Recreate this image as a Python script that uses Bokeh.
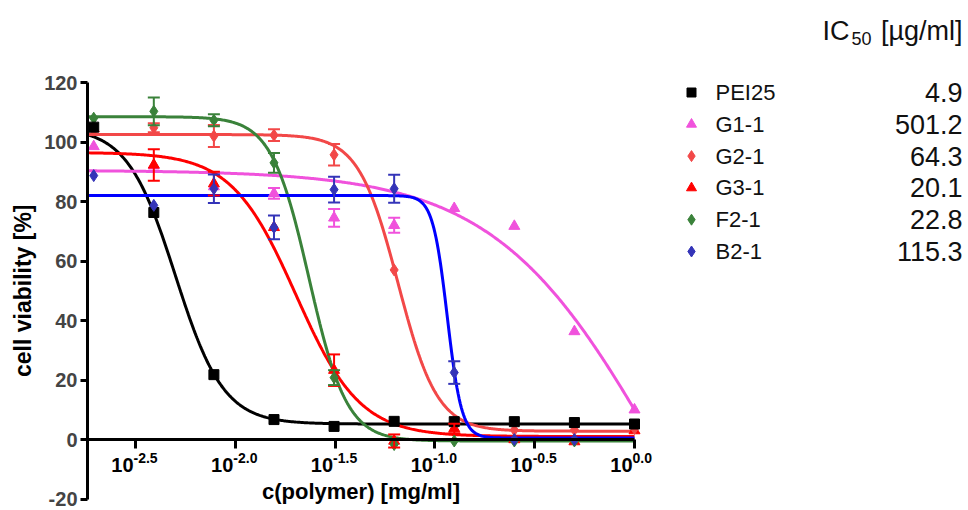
import numpy as np
from bokeh.plotting import figure
from bokeh.models import ColumnDataSource, Range1d, FixedTicker, Whisker, TeeHead
from bokeh.core.properties import value
from bokeh.embed import file_html
from bokeh.resources import INLINE

NAN = float("nan")

# ---------------- data ----------------
conc = [0.001953125, 0.00390625, 0.0078125, 0.015625, 0.03125,
        0.0625, 0.125, 0.25, 0.5, 1.0]                      # mg/ml
x_ticks = [-2.5, -2.0, -1.5, -1.0, -0.5, 0.0]                # log10 ticks
y_ticks = [-20, 0, 20, 40, 60, 80, 100, 120]

names = ["PEI25", "G1-1", "G2-1", "G3-1", "F2-1", "B2-1"]
ic50_text = ["4.9", "501.2", "64.3", "20.1", "22.8", "115.3"]

pei25_mean = [105.0, 76.3, 21.8, 6.7, 4.4, 6.1, 6.0, 6.0, 5.7, 5.2]
pei25_sem = [0, 0, 0, 0, 0, 0, 0, 0, 0, 0]
g11_mean = [98.5, 92.0, 85.0, 82.7, 74.5, 72.0, 77.7, 71.7, 36.3, 10.0]
g11_sem = [0, 0, 0, 1.8, 3.0, 2.5, 0, 0, 0, 0]
g21_mean = [104.0, 104.8, 102.0, 102.3, 95.7, 57.0, 6.0, 3.2, 3.3, 3.7]
g21_sem = [0, 1.5, 3.7, 2.0, 3.6, 0, 0, 0, 0, 0]
g31_mean = [104.5, 92.3, 86.0, 71.3, 23.3, -0.5, 3.7, 0.0, -0.7, 3.0]
g31_sem = [0, 5.3, 4.0, 0, 5.3, 2.2, 1.6, 0, 0, 0]
f21_mean = [108.0, 110.3, 107.3, 93.0, 20.8, -1.7, -0.5, -0.5, -0.5, NAN]
f21_sem = [0, 4.7, 2.0, 3.3, 2.5, 0, 0, 0, 0, 0]
b21_mean = [88.7, 78.7, 84.3, 71.3, 84.0, 84.3, 22.5, 0.0, 0.0, NAN]
b21_sem = [0, 0, 4.8, 4.0, 4.3, 4.7, 3.8, 0, 0, 0]

# fitted dose-response curves
fit_top = [105.0, 90.5, 102.5, 96.5, 108.5, 82.0]
fit_bottom = [5.2, -100.0, 2.8, 1.0, -0.5, 0.5]
fit_logic50 = [-2.30, 0.129, -1.185, -1.697, -1.63, -0.938]
fit_hill = [3.6, 1.05, 4.4, 2.7, 4.6, 12.0]

means = [pei25_mean, g11_mean, g21_mean, g31_mean, f21_mean, b21_mean]
sems = [pei25_sem, g11_sem, g21_sem, g31_sem, f21_sem, b21_sem]

# ---------------- style / layout ----------------
curve_colors = ["#000000", "#F052DC", "#F24848", "#FF0000", "#3A823A", "#0000FF"]
point_colors = ["#000000", "#F052DC", "#F24848", "#FF0000", "#3A823A", "#3434B8"]
markers = ["square", "triangle", "diamond", "triangle", "diamond", "diamond"]
msizes = [10, 11, 12, 11, 12, 12]
draw_order = [1, 3, 2, 4, 0, 5]

FONT = "Liberation Sans"
W, H = 968, 510
PX_PER_DEC = 199.6            # pixels per decade
X0_PX = 634                   # pixel of log10(c) = 0
Y120_PX, YM20_PX = 82, 498.5  # pixels of y = 120 and y = -20
PX_PER_UNIT = (YM20_PX - Y120_PX) / 140.0
Y0_PX = Y120_PX + 120 * PX_PER_UNIT


def px2x(px):
    return (px - X0_PX) / PX_PER_DEC


def py2y(py):
    return (Y0_PX - py) / PX_PER_UNIT


x_start = px2x(87)

p = figure(width=W, height=H, output_backend="svg", toolbar_location=None,
           x_range=Range1d(px2x(0), px2x(W)), y_range=Range1d(py2y(H), py2y(0)),
           min_border=0)
p.outline_line_color = None
p.grid.visible = False
p.background_fill_color = "white"
p.border_fill_color = "white"

logc = np.log10(np.array(conc))

# curves
xs = np.linspace(x_start, 0.0, 500)
for i in range(len(names)):
    T, B, c, h = fit_top[i], fit_bottom[i], fit_logic50[i], fit_hill[i]
    ys = B + (T - B) / (1.0 + 10 ** ((xs - c) * h))
    p.line(xs, ys, line_color=curve_colors[i], line_width=3)

# error bars + points
for i in draw_order:
    m = np.array(means[i]); s = np.array(sems[i])
    sel = s > 0
    if sel.any():
        src = ColumnDataSource(dict(x=logc[sel], upper=(m + s)[sel], lower=(m - s)[sel]))
        col = point_colors[i]
        w = Whisker(source=src, base="x", upper="upper", lower="lower",
                    line_color=col, line_width=2, level="glyph",
                    upper_head=TeeHead(size=12, line_color=col, line_width=2),
                    lower_head=TeeHead(size=12, line_color=col, line_width=2))
        p.add_layout(w)
for i in draw_order:
    p.scatter(logc, means[i], marker=markers[i], size=msizes[i],
              fill_color=point_colors[i], line_color=point_colors[i], line_width=1)

# y axis (drawn at the left end of the x data range)
ya = p.yaxis[0]
ya.fixed_location = x_start
ya.ticker = FixedTicker(ticks=y_ticks)
ya.bounds = (-20, 120)
ya.axis_line_width = 3
ya.major_tick_line_width = 3
ya.major_tick_out = 7
ya.major_tick_in = 0
ya.minor_tick_line_color = None
ya.major_label_text_font = FONT
ya.major_label_text_font_style = "bold"
ya.major_label_text_font_size = "20px"
ya.major_label_standoff = 3
ya.major_label_overrides = {-20: "-20"}

# x axis at y = 0
xa = p.xaxis[0]
xa.fixed_location = 0
xa.ticker = FixedTicker(ticks=x_ticks)
xa.bounds = (x_start, 0.0)
xa.axis_line_width = 3
xa.major_tick_line_width = 3
xa.major_tick_out = 9
xa.major_tick_in = 0
xa.minor_tick_line_color = None
xa.major_label_overrides = {t: " " for t in x_ticks}
xa.major_label_text_font_size = "1px"

# x tick labels 10^e
p.text(x=x_ticks, y=[py2y(Y0_PX + 25)] * len(x_ticks), text=["10"] * len(x_ticks),
       text_font=value(FONT), text_font_style="bold", text_font_size="20px",
       text_align="right", text_baseline="middle", x_offset=-2, text_color="black")
p.text(x=x_ticks, y=[py2y(Y0_PX + 18.5)] * len(x_ticks), text=[f"{t:.1f}" for t in x_ticks],
       text_font=value(FONT), text_font_style="bold", text_font_size="14px",
       text_align="left", text_baseline="middle", x_offset=-2, text_color="black")

# axis titles
p.text(x=[(x_start + 0.0) / 2], y=[py2y(491)], text=["c(polymer) [mg/ml]"],
       text_font=value(FONT), text_font_style="bold", text_font_size="22px",
       text_align="center", text_baseline="middle", text_color="black")
p.text(x=[px2x(22)], y=[(-20 + 120) / 2], text=["cell viability [%]"], angle=np.pi / 2,
       text_font=value(FONT), text_font_style="bold", text_font_size="23px",
       text_align="center", text_baseline="middle", text_color="black")

# ---------------- legend with IC50 column ----------------
row_py = [92 + 31.8 * k for k in range(len(names))]
row_y = [py2y(v) for v in row_py]
for k in range(len(names)):
    p.scatter([px2x(691)], [row_y[k]], marker=markers[k], size=msizes[k] - 1,
              fill_color=point_colors[k], line_color=point_colors[k])
p.text(x=[px2x(715)] * len(names), y=row_y, text=names, text_font=value(FONT),
       text_font_size="22px", text_baseline="middle", text_align="left", text_color="#111111")
p.text(x=[px2x(962)] * len(names), y=row_y, text=ic50_text, text_font=value(FONT),
       text_font_size="27px", text_baseline="middle", text_align="right", text_color="#111111")
p.text(x=[px2x(822)], y=[py2y(30)], text=["IC"], text_font=value(FONT), text_font_size="27px",
       text_baseline="middle", text_align="left", text_color="#111111")
p.text(x=[px2x(851)], y=[py2y(38)], text=["50"], text_font=value(FONT), text_font_size="18px",
       text_baseline="middle", text_align="left", text_color="#111111")
p.text(x=[px2x(962)], y=[py2y(30)], text=["[µg/ml]"], text_font=value(FONT), text_font_size="27px",
       text_baseline="middle", text_align="right", text_color="#111111")

open("out.html", "w").write(file_html(p, INLINE))
